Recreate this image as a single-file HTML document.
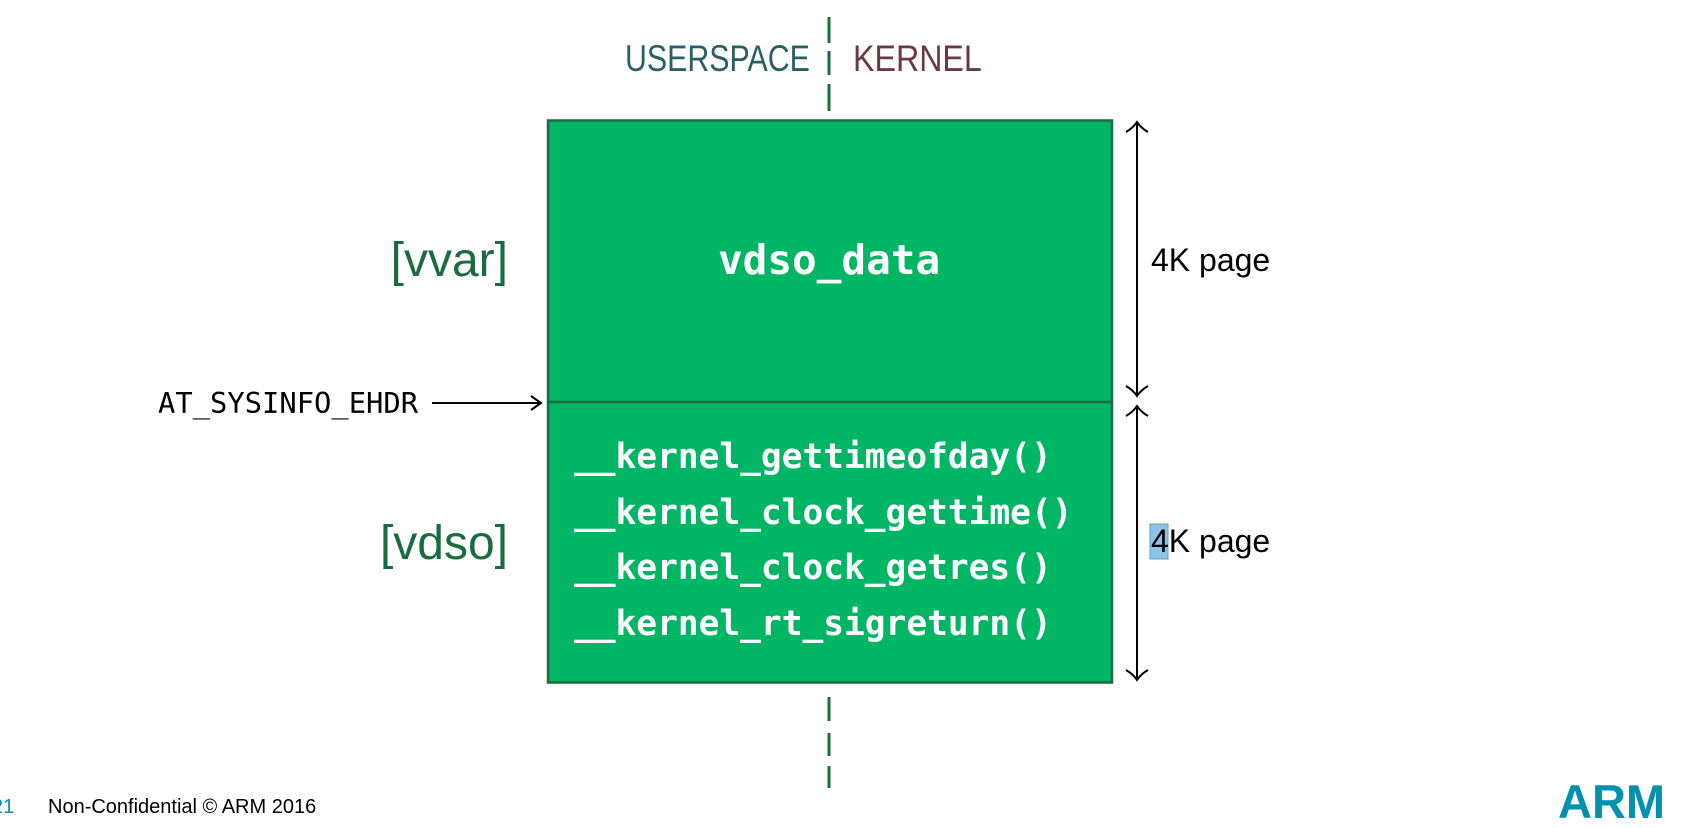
<!DOCTYPE html>
<html><head><style>
body{margin:0;width:1682px;height:826px;background:#fff;position:relative;overflow:hidden;font-family:"Liberation Sans",sans-serif}
.t{position:absolute;white-space:nowrap;line-height:1}
.m{font-family:"DejaVu Sans Mono","Liberation Mono",monospace}
</style></head><body>
<svg width="1682" height="826" style="position:absolute;left:0;top:0">
<g stroke="#1a6b40" stroke-width="3">
<line x1="829" y1="17" x2="829" y2="43"/><line x1="829" y1="51" x2="829" y2="75"/><line x1="829" y1="84" x2="829" y2="111"/>
<line x1="829" y1="697" x2="829" y2="721"/><line x1="829" y1="733" x2="829" y2="756"/><line x1="829" y1="766" x2="829" y2="788"/>
</g>
<rect x="548" y="120.5" width="564" height="562" fill="#00b564" stroke="#1a6b40" stroke-width="2.5"/>
<line x1="548" y1="402" x2="1112" y2="402" stroke="#1a6b40" stroke-width="2.5"/>
<g stroke="#000" stroke-width="2" fill="none">
<line x1="432" y1="403" x2="540" y2="403"/><path d="M531 396 L541 403 L531 410"/>
<line x1="1137" y1="123" x2="1137" y2="395"/><line x1="1137" y1="408" x2="1137" y2="680"/>
<path d="M1126 132 Q1133 128 1137 122 Q1141 128 1148 132"/>
<path d="M1126 386 Q1133 390 1137 396 Q1141 390 1148 386"/>
<path d="M1126 416 Q1133 412 1137 406 Q1141 412 1148 416"/>
<path d="M1126 670 Q1133 674 1137 680 Q1141 674 1148 670"/>
</g>
<rect x="1150" y="524" width="18" height="35" fill="#8ec3e6" stroke="#5a9fd0" stroke-width="1"/>
</svg>
<div class="t" style="left:625px;top:40px;font-size:37px;color:#2b5f68;transform:scaleX(0.82);transform-origin:left">USERSPACE</div>
<div class="t" style="left:853px;top:40px;font-size:37px;color:#6b3a40;transform:scaleX(0.87);transform-origin:left">KERNEL</div>
<div class="t" style="left:390px;top:237px;font-size:48px;color:#1a6b40;width:118px;text-align:right">[vvar]</div>
<div class="t" style="left:370px;top:520px;font-size:48px;color:#1a6b40;width:138px;text-align:right">[vdso]</div>
<div class="t m" style="left:718px;top:240px;font-size:41px;font-weight:bold;color:#fff">vdso_data</div>
<div class="t m" style="left:574px;top:430px;font-size:34.5px;font-weight:bold;color:#fff;line-height:55.7px">__kernel_gettimeofday()<br>__kernel_clock_gettime()<br>__kernel_clock_getres()<br>__kernel_rt_sigreturn()</div>
<div class="t m" style="left:158px;top:389px;font-size:28.8px;color:#000">AT_SYSINFO_EHDR</div>
<div class="t" style="left:1151px;top:244px;font-size:32px;color:#000">4K page</div>
<div class="t" style="left:1151px;top:525px;font-size:32px;color:#000">4K page</div>
<div class="t" style="left:-8px;top:797px;font-size:20px;color:#0091b0">21</div>
<div class="t" style="left:48px;top:797px;font-size:20px;color:#000">Non-Confidential © ARM 2016</div>
<div class="t" style="left:1558px;top:778px;font-size:47px;font-weight:bold;color:#0091b0">ARM</div>
</body></html>
